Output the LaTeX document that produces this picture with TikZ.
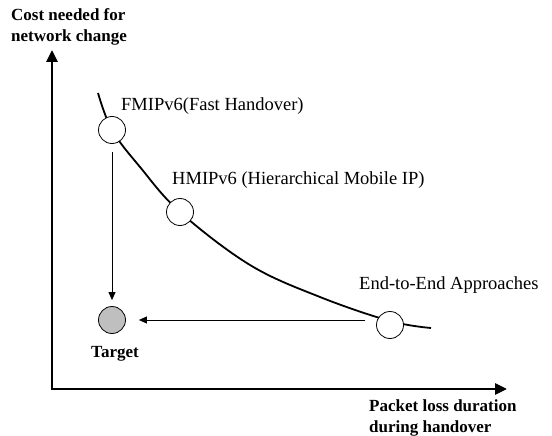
\documentclass[tikz,border=0pt]{standalone}
\usepackage{fontspec}
\setmainfont{Liberation Serif}
\usetikzlibrary{arrows.meta}

\begin{document}
\begin{tikzpicture}[x=1pt, y=-1pt,
        axis/.style={line width=2.8pt, -{Triangle[length=12pt, width=11pt]}},
        thinarrow/.style={line width=0.8pt, -{Triangle[length=8pt, width=7pt]}},
        state/.style={circle, draw, line width=0.8pt, fill=white, minimum size=27pt, inner sep=0pt},
        lbl/.style={font=\fontsize{18.5}{22}\selectfont, inner sep=0pt, anchor=west},
        axislbl/.style={font=\fontsize{17}{21}\bfseries, inner sep=0pt, anchor=west, align=left}]
        \useasboundingbox (0,0) rectangle (552,436);

        % axes
        \coordinate (origin) at (52,389);
        \coordinate (ytip) at (52,50);
        \coordinate (xtip) at (507,389);
        \draw[axis] (origin) -- (ytip);
        \draw[axis] ([xshift=-1.4pt]origin) -- (xtip);
        \node[axislbl] (ylabel) at (11,27) {Cost needed for\\network change};
        \node[axislbl] (xlabel) at (369,418) {Packet loss duration\\during handover};

        % trade-off curve
        \coordinate (c0) at (98,93);
        \coordinate (c1) at (140,167);
        \coordinate (c2) at (250,265);
        \coordinate (c3) at (320,297);
        \coordinate (c4) at (431,328);
        \coordinate (fmipc) at (112,130);
        \coordinate (hmipc) at (180,212);
        \coordinate (e2ec) at (390,321);
        \draw[line width=1.8pt] plot[smooth, tension=0.6] coordinates {(c0) (fmipc) (c1) (hmipc) (c2) (c3) (e2ec) (c4)};

        \node[state] (fmip) at (112,130) {};
        \node[state] (hmip) at (180,212) {};
        \node[state] (e2e) at (390,325) {};
        \node[state, fill=black!25] (target) at (112,320) {};

        \node[lbl] (fmiplbl) at (121,106) {FMIPv6(Fast Handover)};
        \node[lbl] (hmiplbl) at (172,180) {HMIPv6 (Hierarchical Mobile IP)};
        \node[lbl] (e2elbl) at (359,285) {End-to-End Approaches};
        \node[font=\fontsize{17}{21}\bfseries, inner sep=0pt] (targetlbl) at (115,354) {Target};

        \draw[thinarrow, shorten <=8pt, shorten >=6pt] (fmip) -- (target);
        \draw[thinarrow, shorten <=11pt, shorten >=13pt] (e2e.west |- target) -- (target.east);
\end{tikzpicture}
\end{document}
